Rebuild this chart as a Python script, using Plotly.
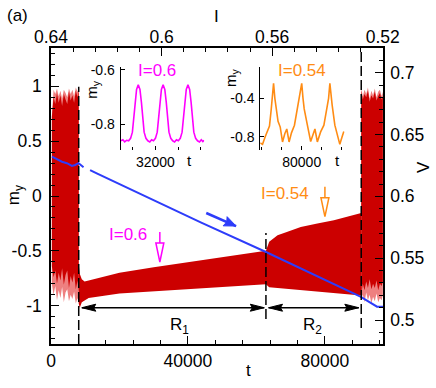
import math
import plotly.graph_objects as go

# ---------------- axis ranges / ticks ----------------
T_RANGE = [0, 97000]
MY_RANGE = [-1.35, 1.35]
V_RANGE = [0.4806, 0.72]
I_RANGE = [0.64, 0.5199]

t_tickvals = [0, 40000, 80000]
t_ticktext = ["0", "40000", "80000"]
my_tickvals = [-1, -0.5, 0, 0.5, 1]
my_ticktext = ["-1", "-0.5", "0", "0.5", "1"]
v_tickvals = [0.5, 0.55, 0.6, 0.65, 0.7]
v_ticktext = ["0.5", "0.55", "0.6", "0.65", "0.7"]
i_tickvals = [0.64, 0.6, 0.56, 0.52]
i_ticktext = ["0.64", "0.6", "0.56", "0.52"]

# ---------------- m_y envelope, chaotic regime at start ----------------
tA = [250, 750, 1250, 1750, 2250, 2750, 3250, 3750, 4250, 4750, 5250, 5750,
      6250, 6750, 7250, 7750, 8100]
upA_out = [0.73, 0.97, 0.93, 0.98, 0.91, 0.96, 0.89, 0.97, 0.94, 0.90, 0.98,
           0.93, 0.97, 0.91, 0.99, 0.95, 0.99]
upA_in = [0.72, 0.90, 0.84, 0.94, 0.85, 0.92, 0.82, 0.93, 0.88, 0.84, 0.95,
          0.87, 0.92, 0.85, 0.96, 0.90, 0.97]
loA_in = [-0.64, -0.74, -0.68, -0.80, -0.70, -0.77, -0.66, -0.81, -0.72, -0.68,
          -0.84, -0.73, -0.79, -0.70, -0.85, -0.77, -0.88]
loA_out = [-0.80, -0.90, -0.82, -0.95, -0.86, -0.93, -0.83, -0.97, -0.88, -0.85,
           -0.96, -0.90, -0.94, -0.87, -0.98, -0.93, -0.98]

# ---------------- m_y envelope, regular regimes R1 and R2 ----------------
tB = [8100, 8400, 9000, 9800, 11000, 20000, 30000, 40000, 50000, 62800,
      63750, 66190, 69100, 72970, 77820, 82650, 86500, 90640]
upB = [-0.62, -0.71, -0.76, -0.78, -0.77, -0.70, -0.65, -0.605, -0.56, -0.50,
       -0.418, -0.357, -0.327, -0.282, -0.25, -0.221, -0.19, -0.155]
loB = [-0.98, -1.02, -0.97, -0.95, -0.93, -0.89, -0.865, -0.845, -0.83, -0.805,
       -0.833, -0.84, -0.85, -0.857, -0.872, -0.887, -0.897, -0.908]

# ---------------- m_y envelope, chaotic regime at end ----------------
tC = [90640, 91100, 91600, 92100, 92600, 93100, 93600, 94100, 94600, 95100,
      95600, 96100, 96600, 96950]
upC_out = [0.98, 0.91, 0.97, 0.93, 0.99, 0.89, 0.96, 0.92, 0.98, 0.90, 0.95,
           0.97, 0.91, 0.95]
upC_in = [0.96, 0.88, 0.93, 0.90, 0.96, 0.86, 0.92, 0.89, 0.95, 0.87, 0.91,
          0.94, 0.88, 0.91]
loC_in = [-0.90, -0.80, -0.86, -0.78, -0.84, -0.76, -0.85, -0.80, -0.84, -0.77,
          -0.86, -0.80, -0.82, -0.78]
loC_out = [-0.93, -0.90, -0.97, -0.88, -0.95, -0.90, -0.98, -0.92, -0.96, -0.89,
           -0.97, -0.93, -0.95, -0.90]

# ---------------- voltage V(t) ----------------
tV = [290, 3200, 4650, 6100, 7060, 8050, 9510, 10300, 11420, 13370, 43900,
      62800, 90400, 93600, 95260, 97000]
V = [0.6321, 0.628, 0.6268, 0.6246, 0.6254, 0.6268, 0.6235, None, 0.6213,
     0.6186, 0.5787, 0.555, 0.5189, 0.514, 0.5108, 0.5108]

# ---------------- inset 1 (I = 0.6) ----------------
INSET1_X = [31692, 32432]
INSET1_Y = [-0.896, -0.588]
t_in1 = [31695, 31712, 31728, 31745, 31763, 31780, 31796, 31808, 31820, 31833,
         31848, 31863, 31876, 31888, 31900, 31916, 31933, 31950, 31966,
         31983, 32000, 32016, 32028, 32040, 32053, 32068, 32083, 32096, 32108,
         32120, 32136, 32153, 32170, 32186, 32203, 32220, 32236, 32248, 32260,
         32273, 32288, 32303, 32316, 32328, 32340, 32356, 32373, 32390, 32406,
         32420, 32432]
my_in1 = [-0.862, -0.858, -0.866, -0.860, -0.862, -0.853, -0.83, -0.785, -0.72,
          -0.672, -0.655, -0.672, -0.72, -0.785, -0.83, -0.853, -0.862, -0.866,
          -0.858, -0.862, -0.853, -0.83, -0.785, -0.72, -0.672, -0.655, -0.672,
          -0.72, -0.785, -0.83, -0.853, -0.862, -0.866, -0.858, -0.862, -0.853,
          -0.83, -0.785, -0.72, -0.672, -0.655, -0.672, -0.72, -0.785, -0.83,
          -0.853, -0.862, -0.866, -0.858, -0.865, -0.860]

# ---------------- inset 2 (I = 0.54) ----------------
INSET2_X = [79583, 80433]
INSET2_Y = [-0.939, -0.070]
t_in2 = [79583, 79606, 79633, 79656, 79676, 79693, 79705, 79717, 79730, 79740,
         79762, 79784, 79807, 79830, 79850, 79873, 79897, 79927, 79953, 79975,
         80000, 80013, 80025, 80057, 80090, 80113, 80133, 80157, 80190, 80223,
         80256, 80270, 80283, 80296, 80306, 80333, 80356, 80383, 80406, 80423]
my_in2 = [-0.865, -0.88, -0.80, -0.73, -0.69, -0.52, -0.38, -0.243, -0.40,
          -0.47, -0.64, -0.70, -0.855, -0.77, -0.72, -0.855, -0.76, -0.68,
          -0.53, -0.40, -0.243, -0.40, -0.51, -0.68, -0.85, -0.78, -0.72,
          -0.855, -0.75, -0.68, -0.51, -0.40, -0.243, -0.40, -0.47, -0.68,
          -0.78, -0.88, -0.80, -0.745]

# regime boundaries (dashed lines) and annotation anchors
t_bounds = [8100, 62800, 90640]
bound_top = [0.997, -0.338, 1.35]
bound_bot = [-1.35, -1.122, -1.204]
R_ARROW_Y = -1.019
R1_TIPS = [9010, 62300]
R2_TIPS = [63580, 89910]
MAG_ARROW = dict(t=31800, top=-0.328, head=-0.429, tip=-0.602)
ORA_ARROW = dict(t=80030, top=0.085, head=-0.018, tip=-0.189)
BLUE_ARROW = dict(t0=45350, m0=-0.155, t1=54070, m1=-0.274)

# ---------------- styling ----------------
W, H = 436, 388
PL, PR, PT, PB = 49, 382.7, 48, 344
PW, PH = PR - PL, PB - PT
FONT = "Liberation Sans, Arial, Helvetica, sans-serif"
RED = "rgb(204,0,0)"
PINK = "rgb(238,128,128)"
BLUE = "rgb(45,60,250)"
MAGENTA = "rgb(255,0,255)"
ORANGE = "rgb(255,140,20)"


def to_px(t, m):
    x = PL + (t - T_RANGE[0]) / (T_RANGE[1] - T_RANGE[0]) * PW
    y = PB - (m - MY_RANGE[0]) / (MY_RANGE[1] - MY_RANGE[0]) * PH
    return x, y


def to_data(x, y):
    t = T_RANGE[0] + (x - PL) / PW * (T_RANGE[1] - T_RANGE[0])
    m = MY_RANGE[0] + (PB - y) / PH * (MY_RANGE[1] - MY_RANGE[0])
    return t, m


def head_path(tip_t, tip_m, from_t, from_m, L, hw, notch):
    x1, y1 = to_px(tip_t, tip_m)
    x0, y0 = to_px(from_t, from_m)
    dx, dy = x1 - x0, y1 - y0
    n = math.hypot(dx, dy)
    ux, uy = dx / n, dy / n
    nx, ny = -uy, ux
    bx, by = x1 - ux * L, y1 - uy * L
    pts = [(x1, y1), (bx + nx * hw, by + ny * hw),
           (x1 - ux * L * notch, y1 - uy * L * notch), (bx - nx * hw, by - ny * hw)]
    dpts = [to_data(px, py) for px, py in pts]
    return "M " + " L ".join(f"{a},{b}" for a, b in dpts) + " Z"


def px2paper(px, py):
    return (px - PL) / PW, (PB - py) / PH


def ann(text, px, py, size=17, color="black", angle=0):
    x, y = px2paper(px, py)
    return dict(text=text, x=x, y=y, xref="paper", yref="paper", showarrow=False,
                font=dict(size=size, color=color, family=FONT), textangle=angle,
                xanchor="center", yanchor="middle")


def band(t, up, lo):
    return t + t[::-1], up + lo[::-1]


fig = go.Figure()
poly = dict(mode="lines", fill="toself", line=dict(width=0), hoverinfo="skip",
            showlegend=False)
x, y = band(tA, upA_out, loA_out)
fig.add_trace(go.Scatter(x=x, y=y, fillcolor=PINK, **poly))
x, y = band(tA, upA_in, loA_in)
fig.add_trace(go.Scatter(x=x, y=y, fillcolor=RED, **poly))
x, y = band(tB, upB, loB)
fig.add_trace(go.Scatter(x=x, y=y, fillcolor=RED, **poly))
x, y = band(tC, upC_out, loC_out)
fig.add_trace(go.Scatter(x=x, y=y, fillcolor=PINK, **poly))
x, y = band(tC, upC_in, loC_in)
fig.add_trace(go.Scatter(x=x, y=y, fillcolor=RED, **poly))

fig.add_trace(go.Scatter(x=tV, y=V, yaxis="y2", mode="lines",
                         line=dict(color=BLUE, width=2), showlegend=False))
fig.add_trace(go.Scatter(x=I_RANGE, y=[0, 0], xaxis="x2", mode="lines",
                         line=dict(width=0), opacity=0, hoverinfo="skip",
                         showlegend=False))
fig.add_trace(go.Scatter(x=t_in1, y=my_in1, xaxis="x3", yaxis="y3", mode="lines",
                         line=dict(color=MAGENTA, width=1.6), showlegend=False))
fig.add_trace(go.Scatter(x=t_in2, y=my_in2, xaxis="x4", yaxis="y4", mode="lines",
                         line=dict(color=ORANGE, width=1.6), showlegend=False))

tickfont = dict(family=FONT, size=17.5, color="black")
common = dict(showgrid=False, zeroline=False, showline=True, linecolor="black",
              linewidth=1.5, ticks="inside", ticklen=8, tickwidth=1.3,
              tickcolor="black", tickfont=tickfont, tickmode="array")


def minor(d, t0):
    return dict(tickmode="linear", tick0=t0, dtick=d, ticks="inside", ticklen=4,
                tickwidth=1, tickcolor="black", showgrid=False)


ix1 = px2paper(119, 0)[0], px2paper(203, 0)[0]
ix2 = px2paper(259.3, 0)[0], px2paper(344.3, 0)[0]
iy = px2paper(0, 150)[1], px2paper(0, 66.7)[1]
inset_font = dict(family=FONT, size=14, color="black")
inset_x = dict(showgrid=False, zeroline=False, showline=False, ticks="inside",
               ticklen=4, tickwidth=1, tickcolor="black", tickfont=inset_font,
               tickmode="array", ticklabelstandoff=2)
inset_y = dict(showgrid=False, zeroline=False, showline=True, linecolor="black",
               linewidth=1, ticks="inside", ticklen=4, tickwidth=1,
               tickcolor="black", tickfont=inset_font, tickmode="array",
               ticklabelstandoff=2)

fig.update_layout(
    width=W, height=H,
    margin=dict(l=PL, r=W - PR, t=PT, b=H - PB, pad=0),
    paper_bgcolor="white", plot_bgcolor="white", showlegend=False,
    font=dict(family=FONT, size=17, color="black"),
    xaxis=dict(range=T_RANGE, tickvals=t_tickvals, ticktext=t_ticktext,
               minor=minor(8000, 0), ticklabelstandoff=0, anchor="y", **common),
    xaxis2=dict(range=I_RANGE, tickvals=i_tickvals, ticktext=i_ticktext,
                minor=minor(0.008, 0.64), overlaying="x", side="top", anchor="y",
                ticklabelstandoff=-4, **common),
    yaxis=dict(range=MY_RANGE, tickvals=my_tickvals, ticktext=my_ticktext,
               minor=minor(0.1, 0), ticklabelstandoff=4, anchor="x", **common),
    yaxis2=dict(range=V_RANGE, tickvals=v_tickvals, ticktext=v_ticktext,
                minor=minor(0.01, 0.5), overlaying="y", side="right", anchor="x",
                ticklabelstandoff=2, **common),
    xaxis3=dict(domain=list(ix1), range=INSET1_X, anchor="y3", tickvals=[32000],
                ticktext=["32000"], minor=dict(tickmode="linear", tick0=32000, dtick=200,
                                               ticks="inside", ticklen=3, tickcolor="black"),
                **inset_x),
    yaxis3=dict(domain=list(iy), range=INSET1_Y, anchor="x3", tickvals=[-0.8, -0.6],
                ticktext=["-0.8", "-0.6"], **inset_y),
    xaxis4=dict(domain=list(ix2), range=INSET2_X, anchor="y4", tickvals=[80000],
                ticktext=["80000"], minor=dict(tickmode="linear", tick0=80000, dtick=200,
                                               ticks="inside", ticklen=3, tickcolor="black"),
                **inset_x),
    yaxis4=dict(domain=list(iy), range=INSET2_Y, anchor="x4", tickvals=[-0.8, -0.4],
                ticktext=["-0.8", "-0.4"], **inset_y),
)

shapes = []
for tb, top, bot in zip(t_bounds, bound_top, bound_bot):
    shapes.append(dict(type="line", xref="x", yref="y", x0=tb, x1=tb, y0=bot, y1=top,
                       line=dict(color="black", width=1.5, dash="10px,4px"), layer="above"))

# double arrows R1, R2
for tips in (R1_TIPS, R2_TIPS):
    shapes.append(dict(type="line", xref="x", yref="y", x0=tips[0], x1=tips[1],
                       y0=R_ARROW_Y, y1=R_ARROW_Y, line=dict(color="black", width=1.5),
                       layer="above"))
    shapes.append(dict(type="path", xref="x", yref="y", layer="above",
                       path=head_path(tips[0], R_ARROW_Y, tips[1], R_ARROW_Y, 14, 3.5, 0.85),
                       fillcolor="black", line=dict(color="black", width=1)))
    shapes.append(dict(type="path", xref="x", yref="y", layer="above",
                       path=head_path(tips[1], R_ARROW_Y, tips[0], R_ARROW_Y, 14, 3.5, 0.85),
                       fillcolor="black", line=dict(color="black", width=1)))

# hollow arrows pointing to the inset times
for arr, col in ((MAG_ARROW, MAGENTA), (ORA_ARROW, ORANGE)):
    shapes.append(dict(type="line", xref="x", yref="y", x0=arr["t"], x1=arr["t"],
                       y0=arr["top"], y1=arr["head"], line=dict(color=col, width=1.5),
                       layer="above"))
    shapes.append(dict(type="path", xref="x", yref="y", layer="above",
                       path=head_path(arr["t"], arr["tip"], arr["t"], arr["head"], 19, 4, 1.0),
                       fillcolor="white", line=dict(color=col, width=1.5)))

# blue sweep arrow
b = BLUE_ARROW
shapes.append(dict(type="line", xref="x", yref="y", x0=b["t0"], x1=b["t1"], y0=b["m0"],
                   y1=b["m1"], line=dict(color=BLUE, width=2.5), layer="above"))
shapes.append(dict(type="path", xref="x", yref="y", layer="above",
                   path=head_path(b["t1"], b["m1"], b["t0"], b["m0"], 12, 5, 0.85),
                   fillcolor=BLUE, line=dict(color=BLUE, width=1)))
fig.update_layout(shapes=shapes)

annotations = [
    ann("(a)", 15, 15.5),
    ann("I", 215, 17),
    ann("t", 248, 370),
    ann("m<sub>y</sub>", 13, 195, angle=-90),
    ann("V", 423, 167, angle=-90),
    ann("m<sub>y</sub>", 90, 89, size=15, angle=-90),
    ann("m<sub>y</sub>", 231, 78, size=15, angle=-90),
    ann("I=0.6", 156, 70, size=17, color=MAGENTA),
    ann("I=0.54", 301, 70, size=17, color=ORANGE),
    ann("t", 188, 160, size=15),
    ann("t", 336.7, 160, size=15),
    ann("I=0.6", 126, 234, size=17, color=MAGENTA),
    ann("I=0.54", 284, 193, size=17, color=ORANGE),
    ann("R<sub>1</sub>", 178, 326),
    ann("R<sub>2</sub>", 312, 326),
]
fig.update_layout(annotations=annotations)

fig.write_html("out.html", config={"displayModeBar": False},
               post_script="document.body.style.margin='0';")
